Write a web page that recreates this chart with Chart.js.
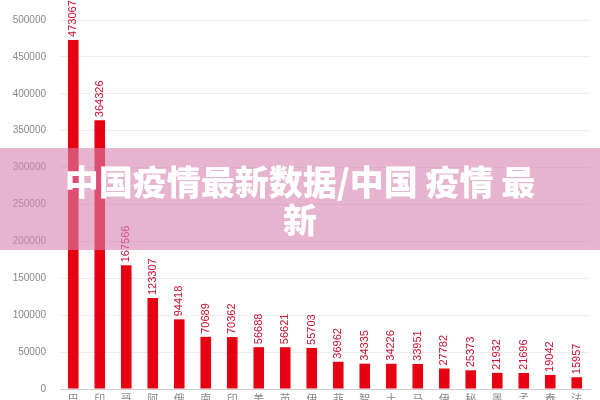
<!DOCTYPE html>
<html>
<head>
<meta charset="utf-8">
<script src="https://cdn.jsdelivr.net/npm/chart.js@4.4.0/dist/chart.umd.min.js"></script>
<style>
    html, body { margin: 0; padding: 0; background: #fff; }
    #wrap { position: relative; width: 600px; height: 400px; overflow: hidden; }
    #box { position: absolute; left: 0; top: 0; width: 600px; height: 440px; }
    #banner {
        position: absolute; left: 0; top: 148px; width: 600px; height: 102px;
        background: rgba(215, 130, 175, 0.6);
        color: #fff; text-align: center;
        font-family: "Noto Sans CJK SC", sans-serif; font-weight: 900;
        font-size: 34px; line-height: 38px;
        box-sizing: border-box; padding-top: 14px;
    }
</style>
</head>
<body>
<div id="wrap">
    <div id="box"><canvas id="casesChart"></canvas></div>
    <div id="banner">中国疫情最新数据/中国 疫情 最<br>新</div>
</div>
<script>
// countries (stacked one char per line, only the first char shows)
const countries = ['巴西', '印度', '哥伦比亚', '阿根廷', '俄罗斯', '南非', '印尼', '美国', '英国', '伊朗',
    '菲律宾', '智利', '土耳其', '马来西亚', '伊拉克', '秘鲁', '墨西哥', '孟加拉', '泰国', '法国'];
const cases = [473067, 364326, 167566, 123307, 94418, 70689, 70362, 56688, 56621, 55703,
    36962, 34335, 34226, 33951, 27782, 25373, 21932, 21696, 19042, 15957];
const yTicks = [0, 50000, 100000, 150000, 200000, 250000, 300000, 350000, 400000, 450000, 500000];

// value labels, rotated, above each bar
const valueLabels = {
    id: 'valueLabels',
    afterDatasetsDraw(chart) {
        const ctx = chart.ctx;
        const meta = chart.getDatasetMeta(0);
        ctx.save();
        ctx.fillStyle = '#cc1030';
        ctx.font = '11px "Liberation Sans", Arial, sans-serif';
        ctx.textAlign = 'left';
        ctx.textBaseline = 'middle';
        meta.data.forEach((bar, i) => {
            ctx.save();
            ctx.translate(bar.x, bar.y - 3);
            ctx.rotate(-Math.PI / 2);
            ctx.fillText(String(cases[i]), 0, 0);
            ctx.restore();
        });
        ctx.restore();
    }
};

new Chart(document.getElementById('casesChart').getContext('2d'), {
    type: 'bar',
    data: {
        labels: countries.map(c => c.split('')),
        datasets: [{
            data: cases,
            backgroundColor: '#e60012',
            barPercentage: 0.4,
            categoryPercentage: 1.0
        }]
    },
    options: {
        responsive: true,
        maintainAspectRatio: false,
        animation: false,
        layout: { padding: { top: 20, right: 10, left: 0, bottom: 0 } },
        plugins: { legend: { display: false }, tooltip: { enabled: false } },
        scales: {
            x: {
                grid: { display: false, drawTicks: false },
                border: { color: '#cccccc' },
                ticks: {
                    color: '#888',
                    font: { size: 11, family: '"Noto Sans CJK SC", sans-serif' },
                    maxRotation: 0,
                    autoSkip: false,
                    padding: 3
                },
                afterFit(scale) { scale.height = 51; }
            },
            y: {
                min: 0,
                max: 500000,
                afterBuildTicks(scale) { scale.ticks = yTicks.map(v => ({ value: v })); },
                grid: { color: '#ececec', drawTicks: false },
                border: { display: false },
                ticks: {
                    color: '#888',
                    font: { size: 10, family: '"Liberation Sans", Arial, sans-serif' },
                    padding: 14,
                    callback: v => String(v)
                },
                afterFit(scale) { scale.width = 60; }
            }
        }
    },
    plugins: [valueLabels]
});
</script>
</body>
</html>
